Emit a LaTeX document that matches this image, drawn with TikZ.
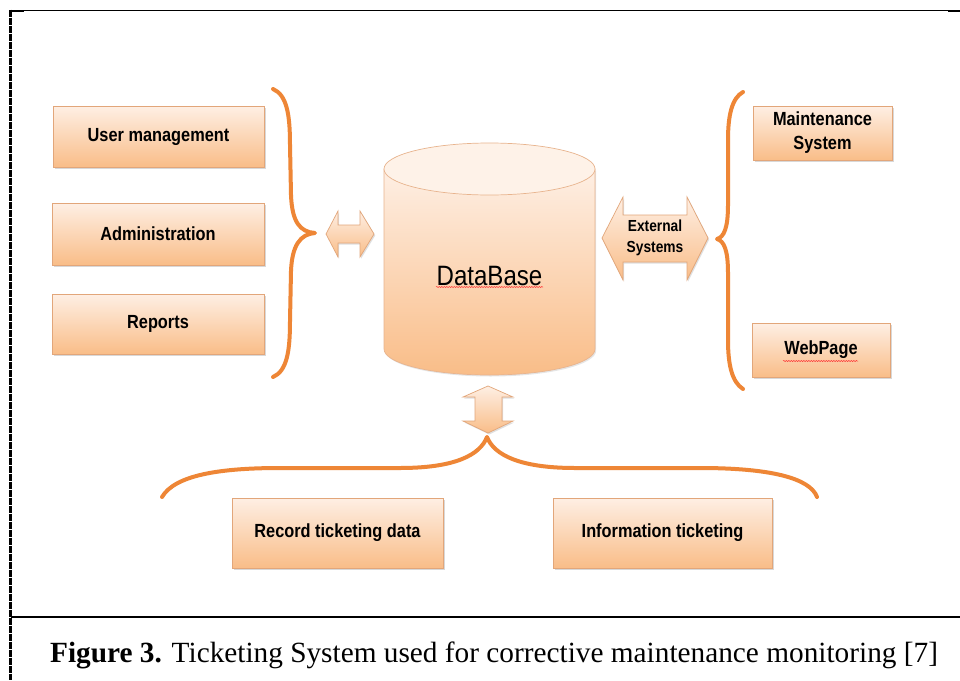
\documentclass[tikz,border=0pt]{standalone}
\usepackage{fontspec}
\setmainfont{Liberation Serif}
\newfontfamily\boxfont{Liberation Sans}[FakeStretch=0.86]
\usetikzlibrary{shadows,decorations.pathmorphing}
\definecolor{bracecol}{HTML}{EE8636}
\definecolor{boxtop}{HTML}{FEEFE4}
\definecolor{boxbot}{HTML}{F9BD88}
\definecolor{boxline}{HTML}{E2A67A}
\definecolor{cyltop}{HTML}{FEF2E8}
\definecolor{cylline}{HTML}{E8B48E}
\tikzset{
  obox/.style={draw=boxline, line width=0.8pt, top color=boxtop, bottom color=boxbot,
    drop shadow={shadow xshift=1.5pt, shadow yshift=-2pt, opacity=0.3},
    font=\boxfont\bfseries\fontsize{19}{24}\selectfont, align=center, inner sep=0pt},
  bracestyle/.style={draw=bracecol, line width=4pt, line cap=round, line join=round},
  oarrow/.style={draw=boxline, line width=0.7pt, top color=boxtop, bottom color=boxbot,
    drop shadow={shadow xshift=1.2pt, shadow yshift=-1.5pt, opacity=0.25}},
  squiggle/.style={draw=red!80, line width=0.5pt, decorate,
    decoration={snake, amplitude=0.6pt, segment length=2.5pt}},
  frameline/.style={draw=black, line width=1.4pt}
}
\begin{document}
\begin{tikzpicture}[x=1pt, y=-1pt]
\useasboundingbox (0,0) rectangle (960,680);
\fill[white] (0,0) rectangle (960,680);

% frame lines
\draw[frameline] (11,10.5) -- (960,10.5);
\draw[black, line width=2.5pt] (10,11) -- (24,11);
\draw[black, line width=2.5pt] (948,11) -- (960,11);
\draw[black, line width=3.5pt, dash pattern=on 7pt off 1pt] (10.5,9.5) -- (10.5,680);
\draw[frameline] (11,617) -- (960,617);

% boxes
\node[obox, minimum width=211pt, minimum height=61pt] (um)  at (158.5,136.5) {User management};
\node[obox, minimum width=212pt, minimum height=62pt] (adm) at (158,234) {Administration};
\node[obox, minimum width=212pt, minimum height=60pt] (rep) at (158,324) {Reports};
\node[obox, minimum width=139pt, minimum height=54pt] (ms)  at (822.5,133) {Maintenance\\System};
\node[obox, minimum width=138pt, minimum height=54pt] (wp)  at (821,350) {WebPage};
\node[obox, minimum width=211pt, minimum height=70pt] (rtd) at (337.5,533) {Record ticketing data};
\node[obox, minimum width=219pt, minimum height=70pt] (it)  at (662.5,533) {Information ticketing};

% cylinder
\path[draw=cylline, line width=0.7pt, top color=boxtop, bottom color=boxbot,
  drop shadow={shadow xshift=1.2pt, shadow yshift=-1.5pt, opacity=0.2}]
  (384,169) -- (384,349) arc[start angle=180, end angle=360, x radius=105.5pt, y radius=26pt]
  -- (595,169) -- cycle;
\path[draw=cylline, line width=0.7pt, fill=cyltop] (489.5,169) ellipse[x radius=105.5pt, y radius=26pt];
\node[font=\boxfont\fontsize{28}{32}\selectfont, inner sep=0pt] (db) at (489.5,276) {DataBase};
\draw[squiggle] (436,287) -- (543,287);
\draw[squiggle] (783,361) -- (858,361);

% braces
\draw[bracestyle] (273,89) .. controls (287,95) and (290,115) .. (290,145) -- (291,195)
  .. controls (292,222) and (300,232) .. (315,233)
  .. controls (300,234) and (292,246) .. (291,271) -- (290,321)
  .. controls (290,351) and (287,371) .. (273,377);
\draw[bracestyle] (743,92) .. controls (732,98) and (728,115) .. (728,140) -- (728,205)
  .. controls (728,228) and (724,237) .. (717,239)
  .. controls (724,241) and (728,250) .. (728,273) -- (728,340)
  .. controls (728,365) and (732,382) .. (743,389);
\draw[bracestyle] (162,497) .. controls (175,475) and (220,468) .. (280,468) -- (400,468)
  .. controls (455,468) and (480,455) .. (487,437)
  .. controls (494,455) and (520,468) .. (575,468) -- (700,468)
  .. controls (770,468) and (810,478) .. (817,497);

% double arrows
\path[oarrow] (326,234) -- (338,211) -- (338,225) -- (360,225) -- (360,211) -- (374,234)
  -- (360,257) -- (360,243) -- (338,243) -- (338,257) -- cycle;
\path[oarrow] (602,238) -- (623,197) -- (623,215) -- (687,215) -- (687,197) -- (708,238)
  -- (687,280) -- (687,262) -- (623,262) -- (623,280) -- cycle;
\node[font=\boxfont\bfseries\fontsize{16}{21}\selectfont, align=center, inner sep=0pt] (ext) at (655,238) {External\\Systems};
\path[oarrow] (488,386) -- (513,397) -- (502,397) -- (502,421) -- (513,421) -- (488,433)
  -- (463,421) -- (475,421) -- (475,397) -- (463,397) -- cycle;

% caption
\node[anchor=base west, inner sep=0pt, font=\fontsize{29.3}{34}\selectfont] (cap) at (50,662)
  {\textbf{Figure 3.} Ticketing System used for corrective maintenance monitoring [7]};
\end{tikzpicture}
\end{document}
